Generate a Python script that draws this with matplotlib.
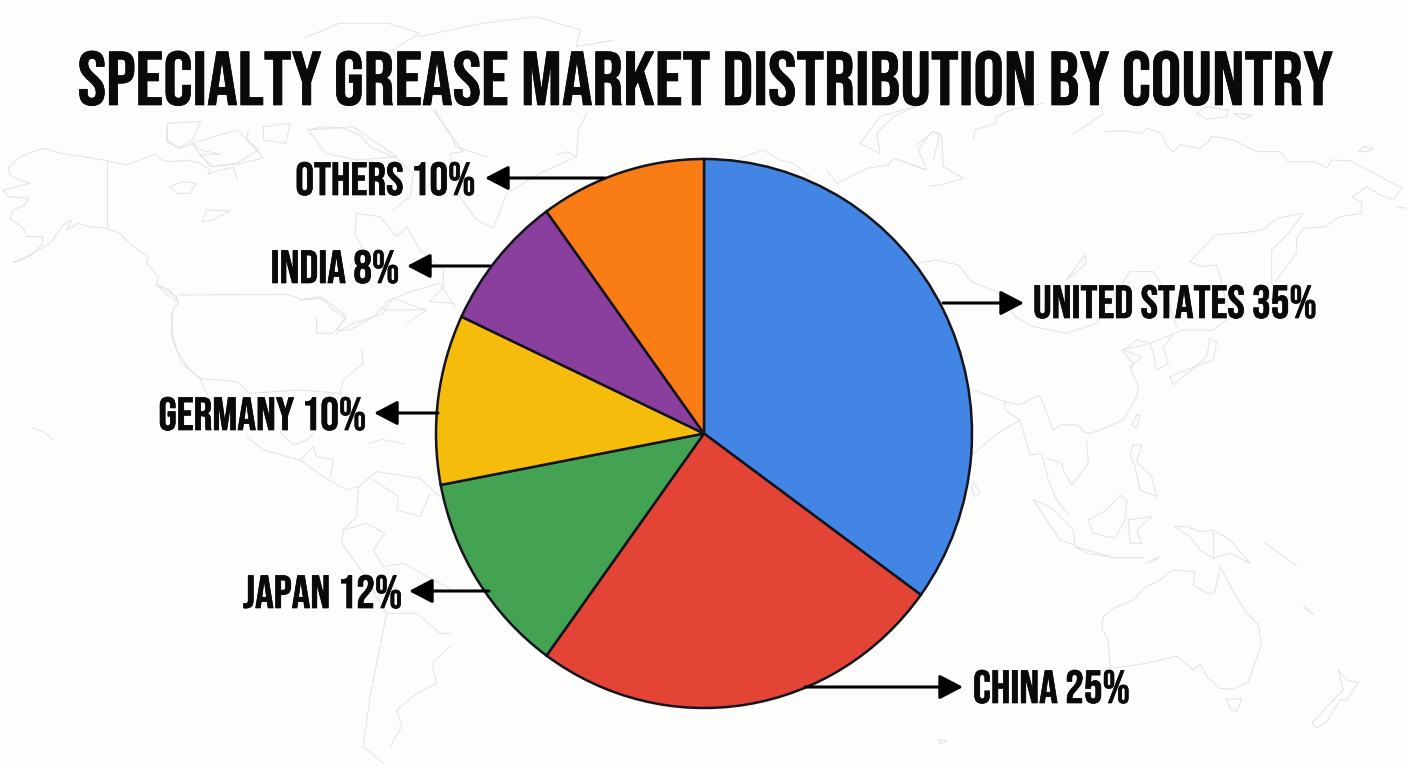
import matplotlib
matplotlib.use("Agg")
import matplotlib.pyplot as plt
from matplotlib import font_manager as fm
import matplotlib.patheffects as pe

title = "SPECIALTY GREASE MARKET DISTRIBUTION BY COUNTRY"
categories = ["United States", "China", "Japan", "Germany", "India", "Others"]
values = [35, 25, 12, 10, 8, 10]
colors = ["#4285E4", "#E34436", "#44A352", "#F6BC0C", "#8A3F9E", "#F97C14"]

# Background world-map sketch, traced by eye: (left, top, x-scale, y-scale, outlines)
map_sketch = [
    (0, 130, 3, 3, [  # Alaska and north-west
        [(25,115),(40,100),(60,80),(100,65),(135,55),(185,70),(250,80),(320,92),(380,105),(420,90),(465,72),(490,92),(520,95),(560,90),(600,100),(630,120),(625,132),(660,120),(700,112),(712,150)],
        [(25,115),(30,135),(60,150),(90,160),(55,168),(10,180),(25,200),(85,205),(75,225),(40,240),(30,265),(70,295),(80,320),(130,320),(125,345),(95,375),(40,398),(90,375),(150,340),(190,285),(215,270),(200,300),(235,280),(270,290),(320,295),(360,310),(400,350),(445,380),(440,400),(475,440),(470,465),(530,500),(535,520),(520,535),(515,600),(530,660),(565,715),(600,745)],
        [(320,92),(320,295)],
        [(535,495),(860,493),(900,505)],
        [(470,465),(510,480),(535,515),(500,495),(470,465)],
        [(510,170),(545,155),(590,160),(570,190),(530,190),(510,170)],
        [(620,240),(690,242),(640,270),(605,275),(620,240)],
        [(500,0),(500,35),(540,55),(580,40),(600,60),(660,72),(600,75),(640,110),(720,100),(790,85),(770,60),(740,30),(745,0)],
    ]),
    (300, 110, 3, 3, [  # Canada east, Greenland
        [(25,60),(70,50),(130,55),(180,75),(210,110),(290,145),(340,190),(330,260),(280,300)],
        [(170,310),(240,320),(290,380),(320,350),(360,420),(430,480),(430,530),(390,575),(460,580),(465,590),(420,520),(330,545),(260,575),(250,600),(380,600),(320,640)],
        [(170,310),(165,370),(190,420),(150,470)],
        [(0,570),(60,560),(100,600),(135,625),(110,660),(150,660),(220,620),(250,590)],
        [(405,0),(440,60),(490,125),(450,130),(480,260),(530,330),(580,355),(620,250),(720,190),(830,140),(835,60),(860,10)],
        [(770,135),(800,125),(830,140)],
    ]),
    (0, 280, 3, 3, [  # the Americas
        [(515,100),(515,170),(545,250),(600,295),(625,350)],
        [(600,295),(710,305),(750,340),(900,330),(1020,340),(1030,300),(1090,250),(1085,205)],
        [(740,470),(790,510),(900,540),(970,590),(1040,630),(1075,620)],
        [(840,455),(880,495),(920,480),(940,460)],
        [(900,540),(940,500),(950,530),(1000,540),(990,590)],
        [(1075,620),(1130,575),(1260,595),(1320,650),(1350,690)],
        [(1075,620),(1070,710),(1030,750),(1025,790),(1090,880),(1160,1000),(1140,1100),(1110,1250),(1090,1400),(1150,1450)],
        [(1030,750),(1100,730),(1155,760),(1120,810),(1150,860),(1210,850),(1300,900),(1350,925)],
        [(1160,1000),(1250,1000),(1320,1060),(1350,1060)],
        [(1170,1400),(1205,1340),(1190,1290),(1250,1240),(1310,1210),(1295,1150),(1350,1100)],
        [(1120,600),(1195,650),(1190,690),(1260,710),(1290,640)],
        [(100,445),(130,455),(160,480)],
        [(1110,490),(1145,478),(1215,492)],
        [(1010,160),(1060,130),(1150,100),(1180,55),(1275,90)],
        [(900,60),(970,55),(1040,110),(1000,160),(950,160),(950,110)],
    ]),
    (960, 330, 3, 3, [  # South and East Asia
        [(35,375),(120,305),(180,270),(135,240),(135,215),(40,180)],
        [(180,270),(210,375),(245,370),(265,450),(290,510),(325,555)],
        [(390,310),(420,300),(490,270),(530,200),(535,170),(510,110),(545,80),(490,60),(530,30),(570,40)],
        [(390,310),(370,305),(355,285),(300,285),(280,300),(250,220),(235,195),(180,225),(135,215)],
        [(380,335),(385,400),(335,465),(310,420),(305,400),(260,385)],
        [(570,40),(580,70),(590,120),(625,100),(610,55),(640,10)],
        [(630,140),(690,115),(760,90),(770,35),(750,25),(740,80),(700,115),(640,165),(630,140)],
        [(530,255),(515,285),(530,295),(540,255),(530,255)],
        [(520,345),(545,345),(530,395),(575,440),(590,500),(540,480),(525,410),(510,370),(520,345)],
        [(385,570),(440,540),(480,495),(500,510),(495,570),(465,625),(400,610),(385,570)],
        [(505,570),(575,560),(530,600),(545,640),(510,640),(505,570)],
        [(645,590),(680,590),(720,605),(760,600),(810,630),(870,700),(810,670),(760,685),(720,660),(690,620),(645,590)],
        [(760,605),(760,685)],
        [(220,510),(270,530),(340,600),(345,645),(300,630),(220,510)],
        [(345,650),(450,680),(380,670),(345,650)],
        [(450,680),(550,680)],
        [(555,700),(600,680),(570,700)],
        [(40,455),(60,490),(45,500),(35,475),(40,455)],
    ]),
    (900, 500, 3, 3, [  # Oceania
        [(610,350),(640,325),(700,300),(730,265),(780,240),(815,210),(885,215),(880,255),(925,282),(945,275),(960,200),(1000,275),(1040,340),(1075,375),(1085,430),(1045,545),(1000,568),(960,565),(920,530),(900,490),(880,510),(830,468),(740,490),(630,505),(625,420),(605,385),(610,350)],
        [(980,597),(1025,597),(1010,635),(990,625),(980,597)],
        [(1315,510),(1340,540),(1375,548),(1340,600),(1320,600),(1280,665),(1250,685),(1235,670),(1300,600),(1330,570),(1315,510)],
        [(1095,128),(1190,198)],
        [(1210,318),(1240,342),(1215,325)],
        [(118,720),(140,722),(120,732),(118,720)],
    ]),
    (950, 100, 3, 3, [  # Russia north coast
        [(70,115),(75,90),(135,70),(140,50),(180,30),(280,10)],
        [(365,103),(420,70),(460,40),(450,10)],
        [(460,95),(515,92),(575,100),(590,85),(635,100),(650,135),(670,155),(690,135),(750,145),(775,125),(785,108),(850,120),(920,155),(990,155),(1015,185),(1095,185),(1130,205),(1145,180),(1200,182),(1300,235),(1355,265),(1330,298),(1290,285),(1250,260),(1205,292),(1235,305),(1235,340),(1170,350),(1125,380),(1060,385),(1040,415),(1040,450)],
        [(740,40),(770,20),(835,30),(830,50),(770,58),(740,40)],
        [(850,40),(905,45),(880,58),(850,40)],
        [(1225,155),(1240,140),(1270,145),(1250,155),(1225,155)],
        [(1340,320),(1370,325)],
    ]),
    (900, 100, 3, 3, [  # Russia south, China north
        [(870,485),(945,405),(1060,395),(1095,385),(1130,355),(1210,340),(1165,400),(1115,450),(1115,550)],
        [(1190,460),(1125,545)],
        [(870,485),(905,500),(950,495),(965,550),(990,650),(940,690),(850,690),(750,730),(665,750),(700,790),(690,810)],
        [(555,465),(560,490),(500,540),(555,465)],
        [(50,490),(110,480),(175,495),(215,545),(300,580),(345,650),(400,680),(500,700),(590,670),(690,515),(760,515),(790,560),(830,680)],
        [(50,135),(100,95),(125,110),(130,200),(190,235),(120,255),(90,258)],
        [(0,180),(80,210)],
    ]),
    (560, 100, 3, 3, [  # Novaya Zemlya, Svalbard
        [(900,130),(960,50),(1080,15),(1000,50),(950,100),(960,160),(900,130)],
        [(800,210),(830,250),(920,205),(985,195),(1000,175),(1100,210),(1075,150),(1115,95),(1140,100),(1120,180)],
        [(540,175),(610,150),(660,180),(700,190),(750,230)],
    ]),
    (0, 0, 2.24, 3, [  # Arctic Canada, Greenland top
        [(680,115),(760,70),(870,70),(940,100),(880,150),(900,200)],
        [(940,110),(1080,70),(1200,50),(1300,90),(1290,140),(1375,120)],
        [(375,370),(450,365),(430,420),(400,445),(375,420),(375,370)],
        [(430,430),(530,390),(580,450),(530,490),(470,500),(430,430)],
        [(590,380),(650,370),(640,430),(590,420),(590,380)],
        [(690,390),(790,380),(890,470),(800,480),(730,460),(690,390)],
        [(970,330),(1010,400),(1020,440),(1090,470)],
    ]),
]

available = {f.name for f in fm.fontManager.ttflist}
fonts = [n for n in ["Bebas Neue", "League Gothic", "Oswald", "Liberation Sans"] if n in available]
plt.rcParams['font.family'] = fonts[:1] + ['DejaVu Sans']

W, H = 1408, 768
fig = plt.figure(figsize=(W / 100, H / 100), dpi=100, facecolor="#FDFDFC")

bg = fig.add_axes([0, 0, 1, 1], facecolor="none")
bg.set_xlim(0, W)
bg.set_ylim(H, 0)
bg.axis("off")
for x0, y0, sx, sy, outlines in map_sketch:
    for outline in outlines:
        bg.plot([x0 + p[0] / sx for p in outline], [y0 + p[1] / sy for p in outline],
                color="#E2E2E2", lw=0.7, solid_joinstyle="round")

L, R, T, B = 436, 972, 159, 708
ax = fig.add_axes([L / W, 1 - B / H, (R - L) / W, (B - T) / H])
ax.pie(values, colors=colors, startangle=90, counterclock=False, radius=1,
       wedgeprops=dict(edgecolor="#14141E", linewidth=1.8))
ax.set_aspect("auto")
ax.set_xlim(-1, 1)
ax.set_ylim(-1, 1)
for p in ax.patches:
    p.set_clip_on(False)

ov = fig.add_axes([0, 0, 1, 1], facecolor="none")
ov.set_xlim(0, W)
ov.set_ylim(H, 0)
ov.axis("off")

bold = [pe.withStroke(linewidth=0.5, foreground="#0a0a0a")]
ov.text(705, 105, title, ha="center", va="baseline", fontsize=54.9, color="#0a0a0a", path_effects=bold)

labels = [
    (f"{categories[0].upper()} {values[0]}%", 1033, 318, "left", (943, 303), (1024, 303)),
    (f"{categories[1].upper()} {values[1]}%", 973, 703, "left", (805, 687), (963, 687)),
    (f"{categories[2].upper()} {values[2]}%", 402, 608, "right", (489, 591), (409, 591)),
    (f"{categories[3].upper()} {values[3]}%", 366, 430, "right", (438, 413), (374, 413)),
    (f"{categories[4].upper()} {values[4]}%", 399, 283, "right", (490, 266), (407, 266)),
    (f"{categories[5].upper()} {values[5]}%", 475, 195, "right", (605, 178), (485, 178)),
]
for text, x, y, ha, start, end in labels:
    ov.text(x, y, text, ha=ha, va="baseline", fontsize=33.5, color="#0a0a0a", path_effects=bold)
    ov.annotate("", xy=end, xytext=start,
                arrowprops=dict(arrowstyle="-|>,head_length=0.65,head_width=0.34", color="black",
                                lw=2.2, mutation_scale=22, shrinkA=0, shrinkB=0))

fig.savefig("out.png", dpi=100, facecolor=fig.get_facecolor())
